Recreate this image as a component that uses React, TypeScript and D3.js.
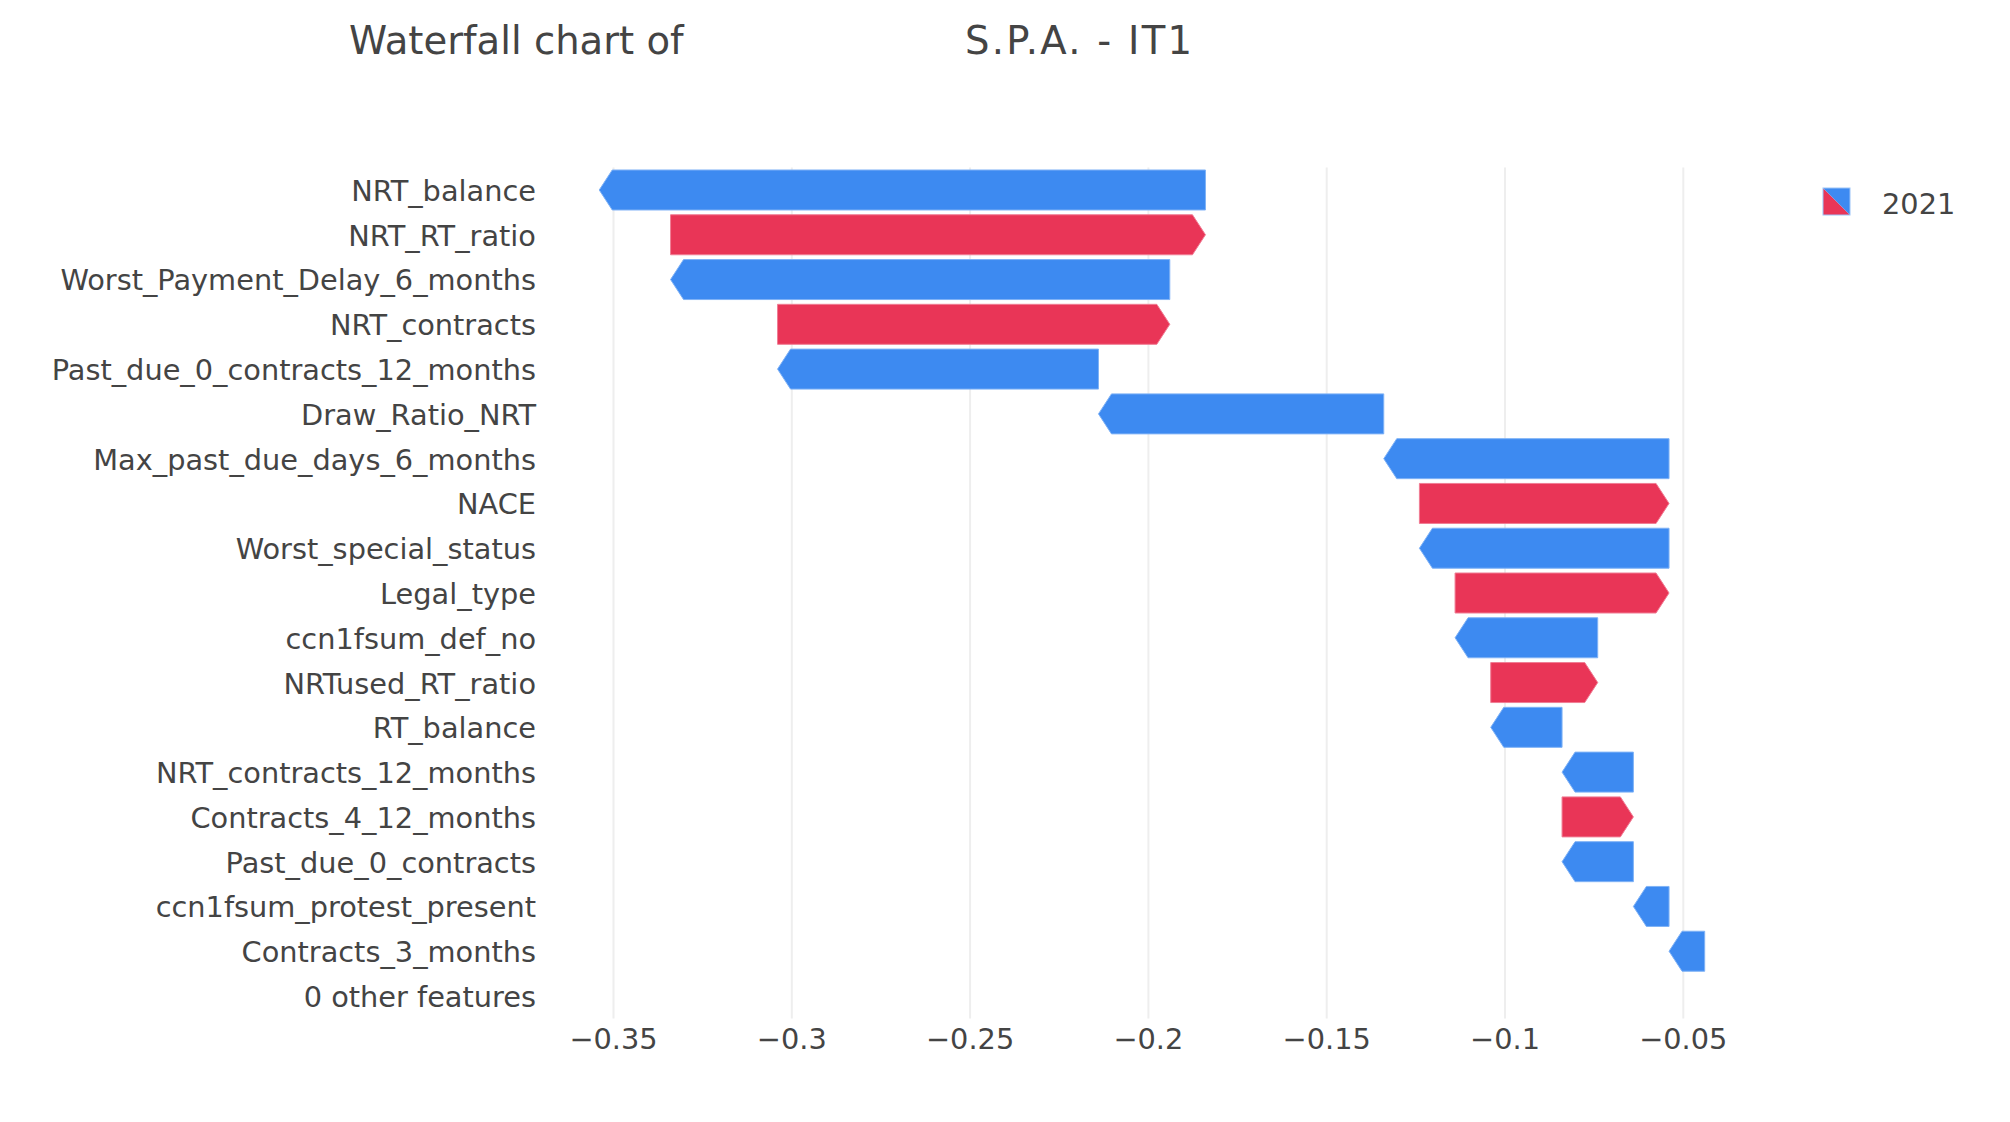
import React from 'react';
import * as d3 from 'd3';

// features listed top to bottom, contributions in the same order
const features = [
  'NRT_balance',
  'NRT_RT_ratio',
  'Worst_Payment_Delay_6_months',
  'NRT_contracts',
  'Past_due_0_contracts_12_months',
  'Draw_Ratio_NRT',
  'Max_past_due_days_6_months',
  'NACE',
  'Worst_special_status',
  'Legal_type',
  'ccn1fsum_def_no',
  'NRTused_RT_ratio',
  'RT_balance',
  'NRT_contracts_12_months',
  'Contracts_4_12_months',
  'Past_due_0_contracts',
  'ccn1fsum_protest_present',
  'Contracts_3_months',
  '0 other features',
];
const contributions = [
  -0.17, 0.15, -0.14, 0.11, -0.09, -0.08, -0.08, 0.07, -0.07, 0.06,
  -0.04, 0.03, -0.02, -0.02, 0.02, -0.02, -0.01, -0.01, 0,
];
const baseValue = -0.044;
const xTicks = [-0.35, -0.3, -0.25, -0.2, -0.15, -0.1, -0.05];
const legendLabel = '2021';

const W = 2010;
const H = 1122;
const BLUE = '#3d8af1';
const RED = '#e93557';
const TEXT = '#444';
const FONT = "Verdana, 'DejaVu Sans', sans-serif";

export default function App() {
  const x = d3.scaleLinear().domain([-0.35, -0.05]).range([613.5, 1683.3]);
  const y = d3.scalePoint<string>().domain(features).range([167.6, 1018.4]).padding(0.5);
  const barH = 40;
  const head = 13;
  const fmt = d3.format('~g');

  // cumulative: chain starts at the bottom and climbs up
  const bars: { name: string; from: number; to: number; d: number }[] = [];
  let cur = baseValue;
  for (let i = features.length - 1; i >= 0; i--) {
    const d = contributions[i];
    bars.push({ name: features[i], from: cur, to: cur + d, d });
    cur += d;
  }

  const arrow = (b: { name: string; from: number; to: number; d: number }) => {
    const cy = y(b.name)!;
    const t = cy - barH / 2;
    const bt = cy + barH / 2;
    const x0 = x(b.from);
    const x1 = x(b.to);
    const len = Math.abs(x1 - x0);
    const h = Math.min(head, len);
    if (b.d < 0) {
      return `M${x0},${t}L${x1 + h},${t}L${x1},${cy}L${x1 + h},${bt}L${x0},${bt}Z`;
    }
    return `M${x0},${t}L${x1 - h},${t}L${x1},${cy}L${x1 - h},${bt}L${x0},${bt}Z`;
  };

  return (
    <div style={{ position: 'absolute', left: 0, top: 0 }}>
      <svg width={W} height={H} style={{ display: 'block', background: '#fff' }} fontFamily={FONT}>
        <text x={349} y={54} fontSize={38.6} fill={TEXT}>Waterfall chart of</text>
        <text x={965} y={54} fontSize={38.6} fill={TEXT} textLength={227} lengthAdjust="spacing">
          S.P.A. - IT1
        </text>

        {xTicks.map((t) => (
          <line key={t} x1={x(t)} x2={x(t)} y1={167.6} y2={1018.4} stroke="#eee" strokeWidth={2} />
        ))}

        {bars
          .filter((b) => b.d !== 0)
          .map((b) => (
            <path
              key={b.name}
              d={arrow(b)}
              fill={b.d < 0 ? BLUE : RED}
              stroke={b.d < 0 ? '#7fb2f6' : '#f07d94'}
              strokeWidth={1}
            />
          ))}

        {features.map((f) => (
          <text key={f} x={536} y={y(f)!} dy="0.38em" textAnchor="end" fontSize={28.8} fill={TEXT}>
            {f}
          </text>
        ))}

        {xTicks.map((t) => (
          <text key={t} x={x(t)} y={1049} textAnchor="middle" fontSize={28.8} fill={TEXT}>
            {fmt(t)}
          </text>
        ))}

        <g transform="translate(1823,188)">
          <path d="M0,0L27,27L0,27Z" fill={RED} />
          <path d="M0,0L27,0L27,27Z" fill={BLUE} />
          <rect x={0} y={0} width={27} height={27} fill="none" stroke="#9cc3f8" strokeWidth={1} />
        </g>
        <text x={1882} y={214} fontSize={28.8} fill={TEXT}>{legendLabel}</text>
      </svg>
    </div>
  );
}
